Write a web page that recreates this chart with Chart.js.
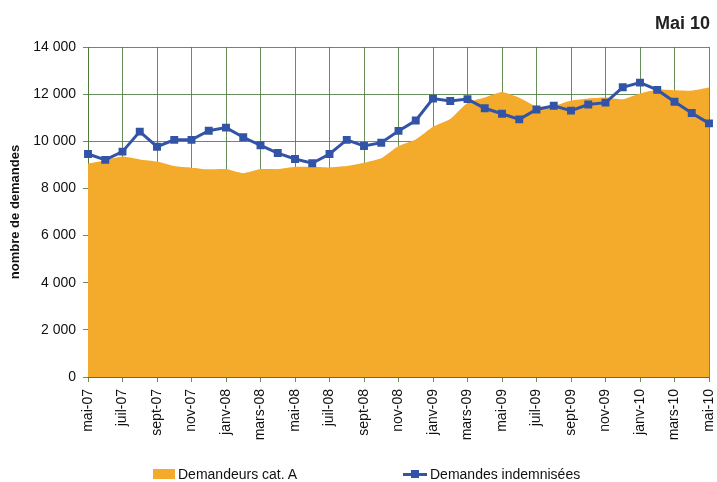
<!DOCTYPE html>
<html>
<head>
<meta charset="utf-8">
<script src="https://cdn.jsdelivr.net/npm/chart.js@4/dist/chart.umd.min.js"></script>
<style>
  html, body { margin: 0; padding: 0; background: #ffffff; }
  #wrap { position: relative; width: 717px; height: 482px; font-family: "Liberation Sans", Arial, sans-serif; }
  #c { position: absolute; left: 0; top: 0; }
  #period { position: absolute; right: 7px; top: 13px; font-weight: bold; font-size: 18px; color: #222; }
  .leg { position: absolute; top: 465px; font-size: 14px; color: #111; line-height: 18px; white-space: nowrap; }
  .box { display: inline-block; width: 22px; height: 10px; background: #F4AA2A; vertical-align: -0px; margin-right: 3px; }
  .lineKey { display: inline-block; position: relative; width: 24px; height: 10px; margin-right: 3px; vertical-align: 0px; }
  .lineKey:before { content: ""; position: absolute; left: 0; right: 0; top: 4px; height: 3px; background: #3354A6; }
  .lineKey:after { content: ""; position: absolute; left: 8px; top: 1px; width: 8px; height: 8px; background: #3354A6; }
</style>
</head>
<body>
<div id="wrap">
  <canvas id="c" width="717" height="482"></canvas>
  <div id="period">Mai 10</div>
  <div class="leg" style="left:153px;"><span class="box"></span>Demandeurs cat. A</div>
  <div class="leg" style="left:403px;"><span class="lineKey"></span>Demandes indemnisées</div>
</div>
<script>
const months = [
  "mai-07","juin-07","juil-07","août-07","sept-07","oct-07","nov-07","déc-07",
  "janv-08","févr-08","mars-08","avr-08","mai-08","juin-08","juil-08","août-08","sept-08","oct-08","nov-08","déc-08",
  "janv-09","févr-09","mars-09","avr-09","mai-09","juin-09","juil-09","août-09","sept-09","oct-09","nov-09","déc-09",
  "janv-10","févr-10","mars-10","avr-10","mai-10"
];
const demandeursCatA = [
  9060, 9200, 9350, 9230, 9140, 8950, 8880, 8810,
  8820, 8640, 8820, 8820, 8920, 8920, 8890, 8950, 9090, 9280, 9800, 10080,
  10620, 10950, 11640, 11860, 12090, 11850, 11480, 11500, 11730, 11820, 11860, 11780,
  12030, 12200, 12170, 12150, 12280
];
const demandesIndemnisees = [
  9460, 9210, 9560, 10410, 9770, 10060, 10060, 10450,
  10580, 10170, 9830, 9500, 9250, 9070, 9460, 10060, 9800, 9940, 10440, 10880,
  11810, 11710, 11790, 11400, 11170, 10930, 11350, 11510, 11300, 11560, 11640, 12290,
  12490, 12180, 11680, 11200, 10760
];
const yTicks = [0, 2000, 4000, 6000, 8000, 10000, 12000, 14000];

const gridGreen = "rgba(78,122,62,0.85)";
const fmt = v => String(v).replace(/\B(?=(\d{3})+(?!\d))/g, " ");

new Chart(document.getElementById("c"), {
  type: "line",
  data: {
    labels: months,
    datasets: [
      {
        label: "Demandes indemnisées",
        data: demandesIndemnisees,
        borderColor: "#3354A6",
        backgroundColor: "#3354A6",
        borderWidth: 3,
        pointStyle: "rect",
        pointRadius: 5.6,
        pointBorderWidth: 0,
        fill: false,
        tension: 0,
        order: 0
      },
      {
        label: "Demandeurs cat. A",
        data: demandeursCatA,
        borderColor: "#F4AA2A",
        backgroundColor: "#F4AA2A",
        borderWidth: 0,
        pointRadius: 0,
        fill: "origin",
        tension: 0.15,
        order: 1
      }
    ]
  },
  options: {
    responsive: false,
    animation: false,
    events: [],
    layout: { padding: { top: 47, right: 8, bottom: 35, left: 0 } },
    plugins: { legend: { display: false }, tooltip: { enabled: false }, title: { display: false } },
    scales: {
      x: {
        type: "category",
        offset: false,
        afterFit: s => { s.height = 70; s.paddingLeft = 0; s.paddingRight = 0; },
        afterBuildTicks: s => { s.ticks = s.ticks.filter(t => t.value % 2 === 0); },
        grid: { color: gridGreen, lineWidth: 1, tickLength: 5, drawTicks: true },
        border: { color: "#4E7A3E", width: 1 },
        ticks: {
          autoSkip: false,
          maxRotation: 90,
          minRotation: 90,
          padding: 7,
          color: "#111",
          font: { family: "'Liberation Sans', Arial, sans-serif", size: 14 },
          callback: function (v) { return this.getLabelForValue(v); }
        }
      },
      y: {
        min: 0,
        max: 14000,
        afterFit: s => { s.width = 88; s.paddingTop = 0; s.paddingBottom = 0; },
        afterBuildTicks: s => { s.ticks = yTicks.map(v => ({ value: v })); },
        grid: { color: gridGreen, lineWidth: 1, tickLength: 5, drawTicks: true },
        border: { color: "#4E7A3E", width: 1 },
        ticks: {
          padding: 7,
          color: "#111",
          font: { family: "'Liberation Sans', Arial, sans-serif", size: 14 },
          callback: v => fmt(v)
        },
        title: {
          display: true,
          text: "nombre de demandes",
          color: "#111",
          padding: { top: 8, bottom: 0 },
          font: { family: "'Liberation Sans', Arial, sans-serif", size: 13, weight: "bold" }
        }
      }
    }
  }
});
</script>
</body>
</html>
